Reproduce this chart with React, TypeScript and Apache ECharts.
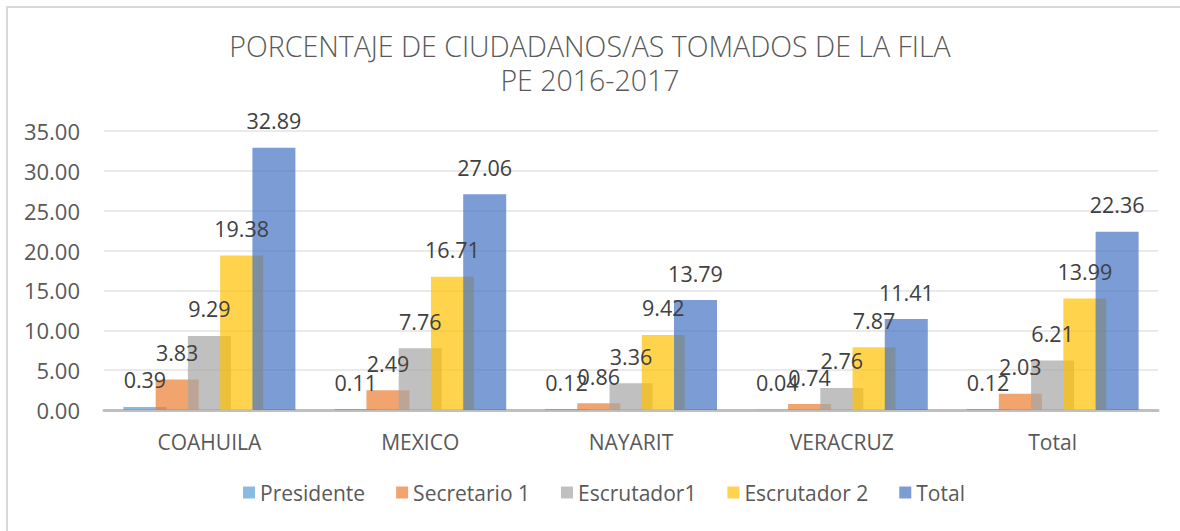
import React, { useEffect, useRef } from "react";
import * as echarts from "echarts";

const categories = ["COAHUILA", "MEXICO", "NAYARIT", "VERACRUZ", "Total"];
const presidente = [0.39, 0.11, 0.12, 0.04, 0.12];
const secretario1 = [3.83, 2.49, 0.86, 0.74, 2.03];
const escrutador1 = [9.29, 7.76, 3.36, 2.76, 6.21];
const escrutador2 = [19.38, 16.71, 9.42, 7.87, 13.99];
const total = [32.89, 27.06, 13.79, 11.41, 22.36];

const seriesNames = ["Presidente", "Secretario 1", "Escrutador1", "Escrutador 2", "Total"];
const seriesData = [presidente, secretario1, escrutador1, escrutador2, total];
const seriesColors = [
  "rgba(91,155,213,0.7)",
  "rgba(237,125,49,0.7)",
  "rgba(165,165,165,0.7)",
  "rgba(255,192,0,0.7)",
  "rgba(68,114,196,0.7)",
];

const FONT = "'Open Sans', 'Noto Sans', sans-serif";

export default function App() {
  const ref = useRef<HTMLDivElement>(null);
  useEffect(() => {
    if (!ref.current) return;
    const chart = echarts.init(ref.current, null, { renderer: "svg" });
    chart.setOption({
      animation: false,
      backgroundColor: "#ffffff",
      textStyle: { fontFamily: FONT },
      title: {
        text: "PORCENTAJE DE CIUDADANOS/AS TOMADOS DE LA FILA\nPE 2016-2017",
        left: "center",
        top: 24,
        textStyle: {
          fontFamily: FONT,
          fontSize: 28.5,
          fontWeight: 300,
          color: "#595959",
          lineHeight: 34,
        },
      },
      graphic: [
        {
          type: "rect",
          shape: { x: 7, y: 7, width: 1200, height: 600 },
          style: { fill: "none", stroke: "#D9D9D9", lineWidth: 2 },
          silent: true,
        },
      ],
      legend: {
        bottom: 23,
        left: 238,
        itemWidth: 12,
        itemHeight: 12,
        itemGap: 31,
        icon: "rect",
        textStyle: { fontFamily: FONT, fontSize: 21, color: "#595959" },
        data: seriesNames,
      },
      grid: { left: 104, right: 22, top: 131, bottom: 121 },
      xAxis: {
        type: "category",
        data: categories,
        axisLine: { lineStyle: { color: "#BFBFBF", width: 3 } },
        axisTick: { show: false },
        axisLabel: { fontFamily: FONT, fontSize: 21, color: "#595959", margin: 21 },
      },
      yAxis: {
        type: "value",
        min: 0,
        max: 35,
        interval: 5,
        axisLine: { show: false },
        axisTick: { show: false },
        splitLine: { lineStyle: { color: "#E3E3E3", width: 1.5 } },
        axisLabel: {
          fontFamily: FONT,
          fontSize: 22,
          color: "#595959",
          margin: 24,
          formatter: (v: number) => v.toFixed(2),
        },
      },
      series: seriesNames.map((name, i) => ({
        name,
        type: "bar",
        data: seriesData[i],
        barWidth: 43,
        barGap: "-25%",
        itemStyle: { color: seriesColors[i] },
        label: {
          show: true,
          position: "top",
          distance: 16,
          fontFamily: FONT,
          fontSize: 21.5,
          color: "#404040",
          formatter: (p: any) => Number(p.value).toFixed(2),
        },
      })),
    });
    return () => chart.dispose();
  }, []);
  return (
    <div
      ref={ref}
      style={{ position: "absolute", left: 0, top: 0, width: 1180, height: 531 }}
    />
  );
}
